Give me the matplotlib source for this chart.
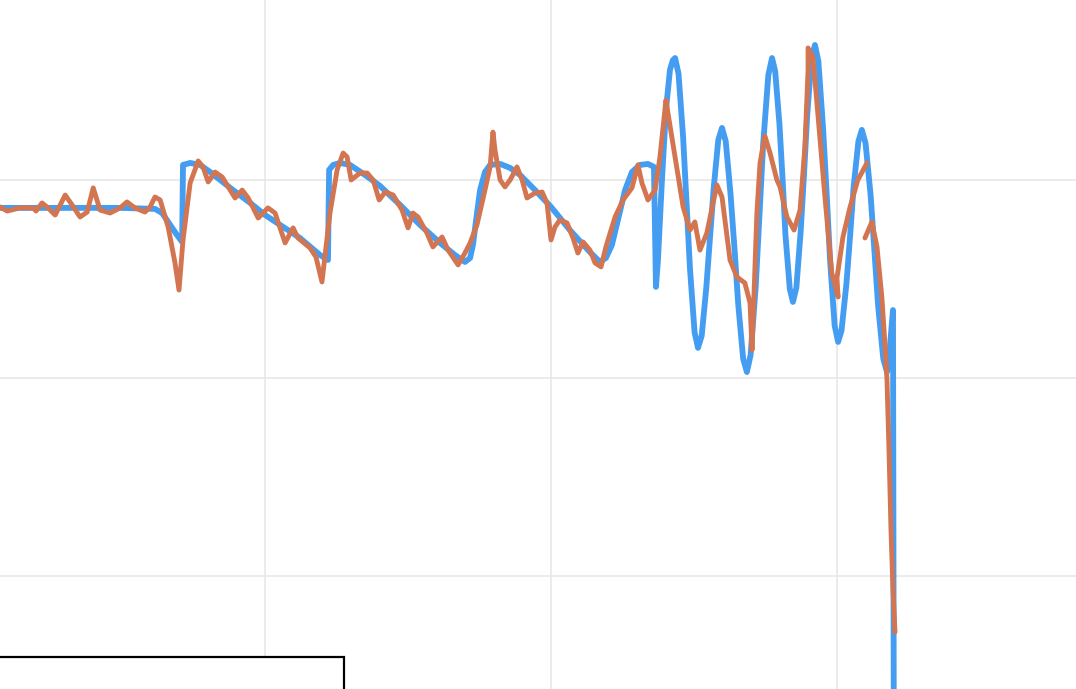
import numpy as np
import matplotlib
matplotlib.use("Agg")
import matplotlib.pyplot as plt
from matplotlib.patches import Rectangle

# === data ===
nan = np.nan

# blue series: smooth signal
blue_x = [0.73, 2.83, 4.93, 6.15, 6.40, 6.68, 6.92, 7.10, 7.13, 7.38,
          7.73, 8.08, 8.88, 9.48, 10.00, 11.22, 11.92, 12.20, 12.24, 12.38,
          12.62, 12.97, 13.50, 14.02, 14.72, 15.42, 16.12, 16.64, 16.99, 17.17,
          17.27, 17.38, 17.52, 17.69, 17.87, 18.22, 18.57, 18.92, 19.44, 20.00,
          20.66, 21.36, 21.71, 21.92, 22.13, 22.34, 22.59, 22.83, 23.11, 23.39,
          23.60,
          23.67, 23.74, 23.88, 24.02, 24.16, 24.26, 24.34,
          24.46, 24.62, 24.74, 24.86, 25.02, 25.14,
          25.27, 25.43, 25.56, 25.69, 25.85, 25.98,
          26.11, 26.28, 26.42, 26.55, 26.72, 26.85,
          26.98, 27.16, 27.29, 27.42, 27.60, 27.73,
          27.84, 27.99, 28.10, 28.20, 28.35, 28.46,
          28.58, 28.73, 28.85, 28.96, 29.11, 29.23,
          29.35, 29.51, 29.64, 29.76, 29.92, 30.04,
          30.16, 30.33, 30.46, 30.58, 30.75, 30.87,
          31.00, 31.18, 31.31, 31.44, 31.62, 31.75,
          31.82, 31.90, 31.96, 31.99]
blue_y = [85.9, 85.9, 85.9, 85.4, 83.3, 77.3, 72.2, 68.7, 107.6, 108.6,
          107.6, 104.0, 94.9, 88.4, 82.3, 70.7, 62.1, 59.6, 105.1, 107.6,
          108.6, 107.6, 102.5, 97.0, 87.4, 77.3, 68.2, 62.1, 58.6, 60.6,
          67.2, 79.8, 94.9, 104.0, 107.6, 108.1, 106.1, 102.5, 94.9, 86.4,
          74.7, 63.6, 58.6, 60.6, 67.2, 79.8, 94.9, 104.0, 107.6, 108.1,
          106.6,
          46.0, 59.6, 100.0, 135.4, 155.6, 160.5, 161.6,
          153.6, 121.6, 88.4, 55.2, 23.2, 15.2,
          21.3, 45.5, 70.8, 96.0, 120.2, 126.3,
          119.6, 92.6, 64.7, 36.7, 9.7, 3.0,
          11.6, 46.3, 82.3, 118.3, 153.0, 161.6,
          154.9, 128.0, 100.0, 72.0, 45.1, 38.4,
          45.5, 73.8, 103.3, 132.8, 161.1, 168.2,
          160.0, 127.2, 93.2, 59.2, 26.4, 18.2,
          24.0, 47.4, 71.8, 96.1, 119.5, 125.3,
          118.6, 91.9, 64.2, 36.4, 9.7, 3.0,
          10.0, 24.0, 34.3, -192.9]

# orange series: noisy estimate
orange_x = [0.73, 0.98, 1.43, 1.89, 1.99, 2.20, 2.41, 2.66, 3.01, 3.25,
            3.53, 3.78, 3.99, 4.23, 4.58, 4.93, 5.17, 5.45, 5.80, 5.98,
            6.15, 6.33, 6.61, 6.85, 6.99, 7.13, 7.38, 7.66, 7.83, 8.01,
            8.25, 8.50, 8.95, 9.20, 9.41, 9.76, 10.10, 10.35, 10.70, 10.98,
            11.15, 11.57, 11.78, 11.99, 12.27, 12.52, 12.73, 12.87, 13.01, 13.32,
            13.57, 13.78, 13.99, 14.20, 14.48, 14.79, 15.00, 15.17, 15.35, 15.66,
            15.87, 16.19, 16.40, 16.75, 16.99, 17.17, 17.41, 17.69, 17.87, 17.97,
            18.04, 18.22, 18.39, 18.57, 18.81, 18.99, 19.16, 19.44, 19.69, 19.86,
            20.00, 20.14, 20.31, 20.56, 20.77, 20.94, 21.12, 21.36, 21.54, 21.75,
            21.92, 22.24, 22.52, 22.83, 23.04, 23.18, 23.39, 23.64, 23.81, 24.02,
            24.09, 24.34, 24.62, 24.86, 25.03, 25.21, 25.45, 25.80, 25.98, 26.26,
            26.50, 26.78, 26.96, 27.03, 27.20, 27.31, 27.48, 27.66, 27.90, 28.01,
            28.25, 28.50, 28.71, 28.88, 28.99, 28.99, 29.16, 29.33, 29.58, 29.82,
            30.04, 30.00, 30.21, 30.46, 30.73, 31.05, nan, 30.98, 31.22, 31.40,
            31.57, 31.68, 31.75, 31.82, 31.89, 31.96, 32.03]
orange_y = [86.4, 84.3, 85.9, 85.9, 84.3, 88.4, 85.9, 82.3, 92.4, 87.4,
            81.3, 83.8, 96.0, 84.8, 83.3, 85.9, 88.9, 85.9, 83.8, 86.4,
            91.4, 89.9, 76.3, 58.1, 44.4, 69.7, 98.5, 109.6, 106.6, 99.0,
            104.0, 101.5, 90.9, 94.9, 90.9, 80.8, 85.9, 83.3, 68.2, 75.8,
            70.7, 65.7, 61.1, 48.5, 83.3, 105.1, 113.6, 111.6, 100.0, 103.5,
            103.5, 100.0, 89.9, 93.9, 92.4, 84.8, 75.8, 83.3, 81.3, 73.2,
            66.2, 71.2, 64.6, 57.1, 63.1, 68.2, 77.3, 94.9, 106.6, 124.2,
            115.2, 100.0, 96.5, 100.0, 106.6, 100.0, 90.9, 93.4, 93.9, 88.4,
            69.7, 76.3, 79.8, 78.3, 70.7, 63.1, 68.7, 64.6, 58.1, 56.1,
            66.2, 81.3, 89.9, 96.0, 107.6, 98.5, 89.9, 94.9, 111.6, 140.4,
            133.8, 111.6, 86.4, 74.7, 78.8, 64.6, 73.2, 97.5, 91.4, 59.6,
            51.0, 48.0, 37.9, 14.1, 83.3, 108.6, 122.2, 113.6, 100.0, 96.5,
            81.3, 74.7, 84.8, 116.7, 155.6, 166.7, 162.1, 133.8, 91.4, 53.0,
            40.9, 50.5, 71.2, 86.4, 100.0, 108.6, nan, 70.7, 78.8, 66.2,
            40.9, 16.7, -1.0, -36.4, -76.8, -107.1, -128.3]

grid_x = [10, 20, 30]
grid_y = [-100, 0, 100]

BLUE = "#459df2"
ORANGE = "#d27550"

# === plot ===
fig = plt.figure(figsize=(10.76, 6.89), dpi=100)
ax = fig.add_axes([0, 0, 1, 1])

ax.plot(blue_x, blue_y, color=BLUE, lw=4.2, solid_joinstyle="round",
        solid_capstyle="butt", zorder=3)
ax.plot(orange_x, orange_y, color=ORANGE, lw=3.5, solid_joinstyle="round",
        solid_capstyle="round", zorder=4)

ax.set_xlim(0.73, 38.36)
ax.set_ylim(-157.1, 190.9)
ax.set_xticks(grid_x)
ax.set_yticks(grid_y)
ax.tick_params(length=0, labelbottom=False, labelleft=False)
ax.grid(True, color="#e6e6e6", lw=1.1)
ax.set_axisbelow(True)
for s in ax.spines.values():
    s.set_visible(False)

# legend frame, mostly cut off at the bottom edge
ax.add_patch(Rectangle((-0.01, -0.2), 0.3297, 0.2464, transform=ax.transAxes,
                       facecolor="white", edgecolor="black", lw=1.6,
                       clip_on=False, zorder=5))

fig.savefig("out.png", dpi=100)
